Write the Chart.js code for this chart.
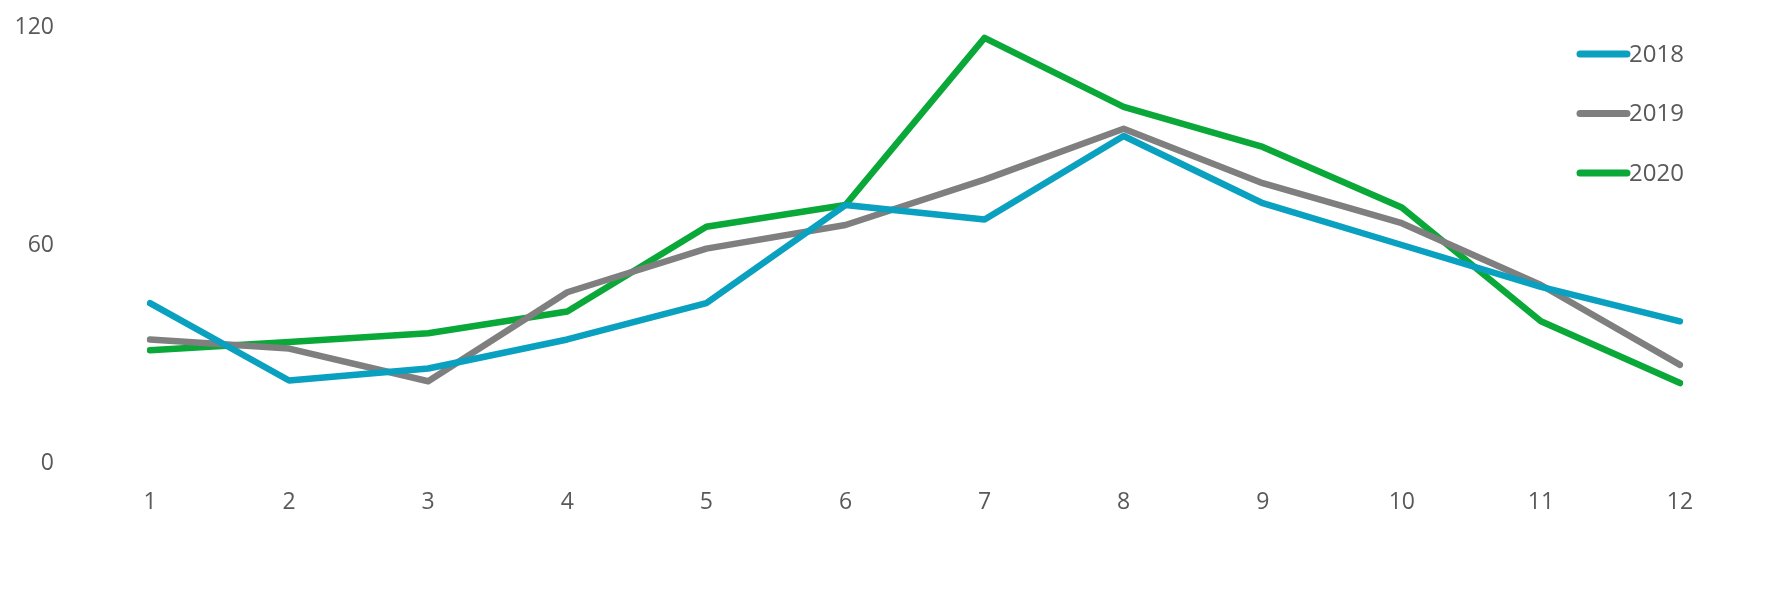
<!DOCTYPE html>
<html>
<head>
<meta charset="utf-8">
<script src="https://cdn.jsdelivr.net/npm/chart.js@4"></script>
<style>
  html, body { margin: 0; padding: 0; background: #fff; }
  #wrap { width: 1772px; height: 591px; }
</style>
</head>
<body>
<div id="wrap"><canvas id="chart" width="1772" height="591"></canvas></div>
<script>
// data
var months = ['1', '2', '3', '4', '5', '6', '7', '8', '9', '10', '11', '12'];
var seriesNames = ['2018', '2019', '2020'];
var values2018 = [44, 22.7, 26, 34, 44, 71, 67, 90, 71.5, 60, 48.5, 39];
var values2019 = [34, 31.5, 22.5, 47, 59, 65.5, 78, 92, 77, 66, 49, 27];
var values2020 = [31, 33.3, 35.7, 41.7, 65, 71, 117, 98, 87, 70.3, 39, 22];
var yTicks = [0, 60, 120];

var colors = ['#0aa0bf', '#7f7f7f', '#0aa838'];
var textColor = '#595959';
var fontFamily = "'Open Sans', 'Noto Sans', sans-serif";

// legend drawn inside the plot, top right
var insideLegend = {
  id: 'insideLegend',
  afterDraw: function(chart) {
    var ctx = chart.ctx;
    var x0 = 1580, len = 47, y0 = 54, gap = 59.5;
    ctx.save();
    ctx.font = '24px ' + fontFamily;
    ctx.textBaseline = 'middle';
    ctx.textAlign = 'left';
    chart.data.datasets.forEach(function(ds, i) {
      var y = y0 + i * gap;
      ctx.strokeStyle = ds.borderColor;
      ctx.lineWidth = 7;
      ctx.lineCap = 'round';
      ctx.beginPath();
      ctx.moveTo(x0, y);
      ctx.lineTo(x0 + len, y);
      ctx.stroke();
      ctx.fillStyle = textColor;
      ctx.fillText(ds.label, x0 + len + 2, y + 1);
    });
    ctx.restore();
  }
};

var ctx = document.getElementById('chart').getContext('2d');
var chart = new Chart(ctx, {
  type: 'line',
  data: {
    labels: months,
    datasets: [values2018, values2019, values2020].map(function(v, i) {
      return {
        label: seriesNames[i],
        data: v,
        borderColor: colors[i],
        backgroundColor: colors[i],
        borderWidth: 6.5,
        pointRadius: 0,
        tension: 0,
        borderJoinStyle: 'round',
        borderCapStyle: 'round'
      };
    })
  },
  plugins: [insideLegend],
  options: {
    responsive: false,
    animation: false,
    layout: { padding: { left: 0, right: 92, top: 27, bottom: 0 } },
    plugins: {
      legend: { display: false },
      tooltip: { enabled: false }
    },
    scales: {
      x: {
        offset: false,
        grid: { display: false, drawTicks: false },
        border: { display: false },
        afterFit: function(scale) { scale.height = 128; },
        ticks: {
          color: textColor,
          font: { family: fontFamily, size: 23 },
          padding: 26,
          maxRotation: 0
        }
      },
      y: {
        min: 0,
        max: 120,
        grid: { display: false, drawTicks: false },
        border: { display: false },
        afterBuildTicks: function(scale) {
          scale.ticks = yTicks.map(function(v) { return { value: v }; });
        },
        afterFit: function(scale) {
          scale.width = 150;
          scale.paddingTop = 0;
          scale.paddingBottom = 0;
        },
        ticks: {
          color: textColor,
          font: { family: fontFamily, size: 23 },
          padding: 96
        }
      }
    }
  }
});
</script>
</body>
</html>
